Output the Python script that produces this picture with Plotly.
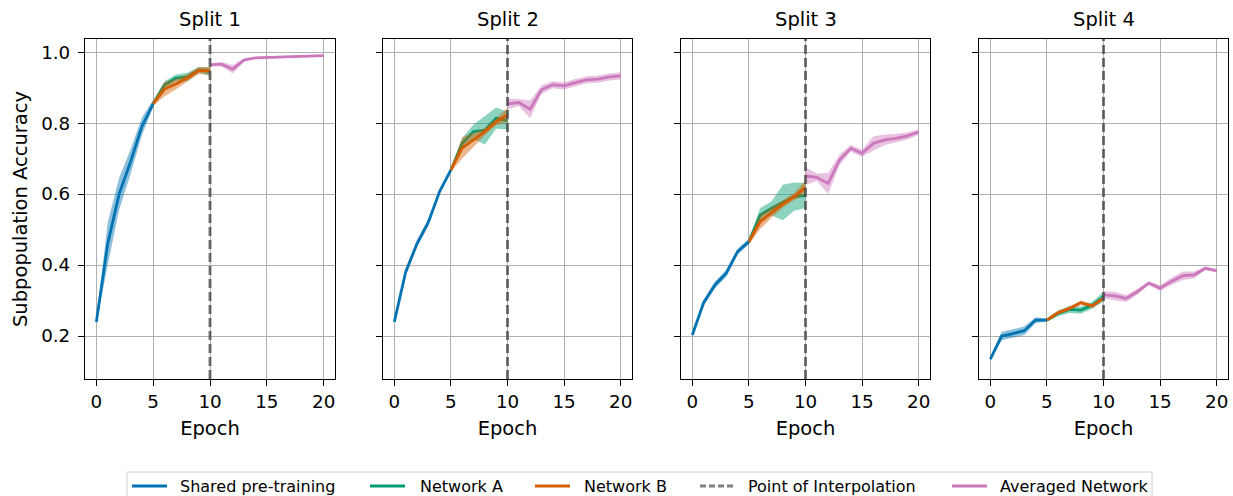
import plotly.graph_objects as go

# Epoch indices for each training phase
epochs_shared = [0, 1, 2, 3, 4, 5]
epochs_branch = [5, 6, 7, 8, 9, 10]
epochs_avg = [10, 11, 12, 13, 14, 15, 16, 17, 18, 19, 20]

split_titles = ["Split 1", "Split 2", "Split 3", "Split 4"]
x_ticks = [0, 5, 10, 15, 20]
y_ticks = [0.2, 0.4, 0.6, 0.8, 1.0]
interp_epoch = 10

# Mean accuracy per split (shared pre-training, epochs 0-5)
shared_mean = [
    [0.24, 0.46, 0.60, 0.69, 0.79, 0.855],
    [0.24, 0.38, 0.46, 0.52, 0.607, 0.668],
    [0.203, 0.294, 0.344, 0.377, 0.438, 0.466],
    [0.135, 0.20, 0.207, 0.215, 0.245, 0.245],
]
shared_std = [
    [0.005, 0.06, 0.045, 0.035, 0.025, 0.01],
    [0.004, 0.01, 0.01, 0.01, 0.005, 0.005],
    [0.003, 0.008, 0.01, 0.01, 0.008, 0.008],
    [0.005, 0.012, 0.012, 0.012, 0.008, 0.005],
]

# Network A (epochs 5-10)
net_a_mean = [
    [0.855, 0.908, 0.927, 0.93, 0.95, 0.945],
    [0.668, 0.743, 0.776, 0.78, 0.814, 0.807],
    [0.466, 0.541, 0.56, 0.576, 0.593, 0.596],
    [0.245, 0.264, 0.275, 0.273, 0.287, 0.311],
]
net_a_std = [
    [0.006, 0.01, 0.01, 0.012, 0.008, 0.012],
    [0.005, 0.015, 0.02, 0.04, 0.03, 0.025],
    [0.008, 0.02, 0.02, 0.05, 0.04, 0.035],
    [0.005, 0.008, 0.01, 0.01, 0.01, 0.014],
]

# Network B (epochs 5-10)
net_b_mean = [
    [0.855, 0.896, 0.91, 0.927, 0.948, 0.948],
    [0.668, 0.73, 0.753, 0.776, 0.804, 0.823],
    [0.466, 0.522, 0.548, 0.572, 0.593, 0.619],
    [0.245, 0.266, 0.278, 0.294, 0.285, 0.306],
]
net_b_std = [
    [0.006, 0.02, 0.015, 0.01, 0.01, 0.01],
    [0.005, 0.03, 0.02, 0.01, 0.01, 0.02],
    [0.008, 0.02, 0.015, 0.01, 0.01, 0.02],
    [0.005, 0.005, 0.005, 0.006, 0.005, 0.005],
]

# Averaged network (epochs 10-20)
avg_mean = [
    [0.964, 0.966, 0.952, 0.978, 0.984, 0.985, 0.987, 0.989, 0.988, 0.989, 0.99],
    [0.854, 0.858, 0.839, 0.894, 0.908, 0.905, 0.914, 0.922, 0.924, 0.93, 0.933],
    [0.651, 0.647, 0.63, 0.696, 0.729, 0.715, 0.743, 0.753, 0.757, 0.764, 0.775],
    [0.316, 0.313, 0.306, 0.325, 0.349, 0.335, 0.354, 0.37, 0.372, 0.391, 0.384],
]
avg_std = [
    [0.005, 0.006, 0.012, 0.005, 0.003, 0.003, 0.003, 0.003, 0.003, 0.003, 0.003],
    [0.015, 0.01, 0.025, 0.012, 0.01, 0.01, 0.01, 0.01, 0.01, 0.01, 0.01],
    [0.025, 0.01, 0.03, 0.015, 0.01, 0.01, 0.02, 0.015, 0.012, 0.01, 0.008],
    [0.01, 0.012, 0.01, 0.008, 0.005, 0.008, 0.01, 0.012, 0.01, 0.005, 0.005],
]

BLUE = "#0173b2"
GREEN = "#029e73"
ORANGE = "#d55e00"
PINK = "#cc78bc"
DASH_GRAY = "rgba(70,70,70,0.8)"
LEGEND_GRAY = "#808080"


def rgba(hex_color, alpha):
    h = hex_color.lstrip("#")
    r, g, b = int(h[0:2], 16), int(h[2:4], 16), int(h[4:6], 16)
    return f"rgba({r},{g},{b},{alpha})"


W, H = 1233, 496
panel_px = [(85, 335), (383, 632), (681, 930), (979, 1228)]
plot_top, plot_bottom = 39, 379
y_dom = [1 - plot_bottom / H, 1 - plot_top / H]

font_family = "DejaVu Sans, sans-serif"

fig = go.Figure()

series_defs = [
    ("Shared pre-training", epochs_shared, shared_mean, shared_std, BLUE),
    ("Network A", epochs_branch, net_a_mean, net_a_std, GREEN),
    ("Network B", epochs_branch, net_b_mean, net_b_std, ORANGE),
    ("Averaged Network", epochs_avg, avg_mean, avg_std, PINK),
]

for i in range(4):
    xa = "x" if i == 0 else f"x{i + 1}"
    ya = "y" if i == 0 else f"y{i + 1}"
    for name, xs, means, stds, color in series_defs:
        m = means[i]
        s = stds[i]
        upper = [a + b for a, b in zip(m, s)]
        lower = [a - b for a, b in zip(m, s)]
        fig.add_trace(go.Scatter(
            x=list(xs) + list(xs)[::-1], y=upper + lower[::-1],
            fill="toself", fillcolor=rgba(color, 0.45), line=dict(width=0),
            mode="lines", hoverinfo="skip", showlegend=False,
            xaxis=xa, yaxis=ya,
        ))
        fig.add_trace(go.Scatter(
            x=xs, y=m, mode="lines", name=name,
            line=dict(color=color, width=2.8),
            showlegend=False, xaxis=xa, yaxis=ya,
        ))
    fig.add_shape(
        type="line", x0=interp_epoch, x1=interp_epoch, y0=0, y1=1,
        xref=xa, yref=f"{ya} domain",
        line=dict(color=DASH_GRAY, width=2.8, dash="9px,4px"),
    )
    x0, x1 = panel_px[i]
    fig.add_annotation(
        text=split_titles[i], x=(x0 + x1) / 2 / W, y=1 - 20 / H,
        xref="paper", yref="paper", xanchor="center", yanchor="middle",
        showarrow=False,
        font=dict(size=19.5, color="black", family=font_family),
    )

# Legend drawn below the panels: framed row of line samples and labels
legend_items = [
    ("Shared pre-training", BLUE, "solid", 132, 179),
    ("Network A", GREEN, "solid", 370, 419),
    ("Network B", ORANGE, "solid", 535, 583),
    ("Point of Interpolation", LEGEND_GRAY, "6px,3px", 700, 747),
    ("Averaged Network", PINK, "solid", 952, 999),
]
legend_y = 486
fig.add_shape(
    type="rect", xref="paper", yref="paper",
    x0=127 / W, x1=1152 / W, y0=1 - 472 / H, y1=-0.05,
    line=dict(color="#d0d0d0", width=1), fillcolor="white", layer="below",
)
for label, color, dash, sx, tx in legend_items:
    fig.add_shape(
        type="line", xref="paper", yref="paper",
        x0=sx / W, x1=(sx + 35) / W, y0=1 - legend_y / H, y1=1 - legend_y / H,
        line=dict(color=color, width=2.8, dash=dash),
    )
    fig.add_annotation(
        text=label, x=tx / W, y=1 - legend_y / H, xref="paper", yref="paper",
        xanchor="left", yanchor="middle", showarrow=False, borderpad=0,
        font=dict(size=16, color="black", family=font_family),
    )

axis_common = dict(
    showline=True, mirror=True, linecolor="black", linewidth=1.2,
    ticks="outside", ticklen=6, tickwidth=1.2, tickcolor="black",
    showgrid=True, gridcolor="#b0b0b0", gridwidth=1,
    zeroline=False,
    tickfont=dict(size=18.3, color="black", family=font_family),
)

layout_axes = {}
for i in range(4):
    xk = "xaxis" if i == 0 else f"xaxis{i + 1}"
    yk = "yaxis" if i == 0 else f"yaxis{i + 1}"
    x0, x1 = panel_px[i]
    layout_axes[xk] = dict(
        axis_common, domain=[x0 / W, x1 / W], range=[-1, 21],
        tickvals=x_ticks, anchor="y" if i == 0 else f"y{i + 1}",
        title=dict(text="Epoch", standoff=10,
                   font=dict(size=19.5, color="black", family=font_family)),
    )
    layout_axes[yk] = dict(
        axis_common, domain=y_dom, range=[0.079, 1.037],
        tickvals=y_ticks, tickformat=".1f",
        anchor="x" if i == 0 else f"x{i + 1}",
        showticklabels=(i == 0), ticklabelstandoff=4,
    )
layout_axes["yaxis"]["title"] = dict(
    text="Subpopulation Accuracy", standoff=8,
    font=dict(size=19.5, color="black", family=font_family),
)

fig.update_layout(
    width=W, height=H,
    margin=dict(l=0, r=0, t=0, b=0),
    plot_bgcolor="white", paper_bgcolor="white",
    font=dict(family=font_family, color="black"),
    showlegend=False,
    **layout_axes,
)

fig.write_html("out.html")
